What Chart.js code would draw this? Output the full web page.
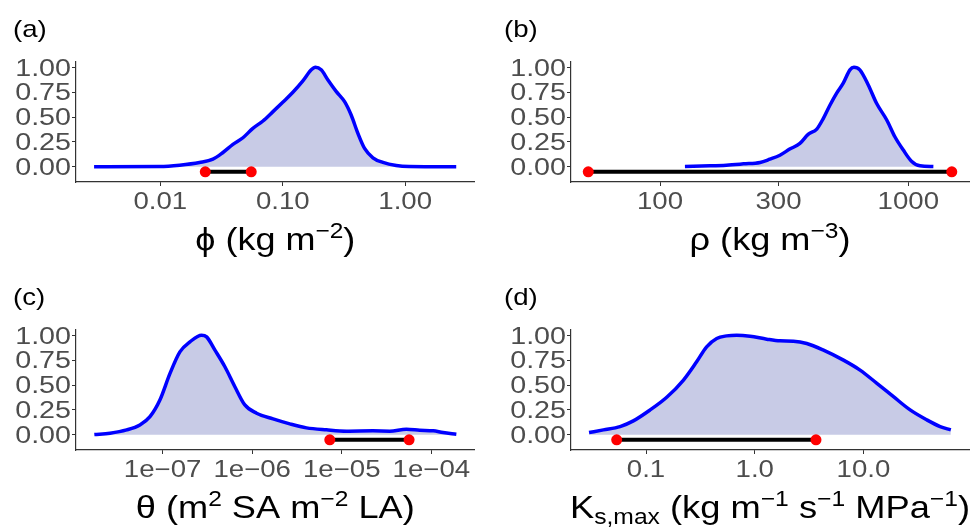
<!DOCTYPE html>
<html><head><meta charset="utf-8">
<script src="https://cdn.jsdelivr.net/npm/chart.js@4.4.1/dist/chart.umd.min.js"></script>
<style>
html,body{margin:0;padding:0;background:#fff;width:975px;height:532px;overflow:hidden}
canvas{position:absolute}
</style></head><body>
<canvas id="pa" width="480" height="266" style="left:0;top:0"></canvas>
<canvas id="pb" width="480" height="266" style="left:495px;top:0"></canvas>
<canvas id="pc" width="480" height="264" style="left:0;top:268px"></canvas>
<canvas id="pd" width="480" height="264" style="left:495px;top:268px"></canvas>
<script>
// ---- data ----
const phiX = [0.00288, 0.00989, 0.0144, 0.0209, 0.0269, 0.0325, 0.0392, 0.0473, 0.0570, 0.0689, 0.0832, 0.100, 0.121, 0.146, 0.171, 0.185, 0.206, 0.234, 0.274, 0.320, 0.362, 0.411, 0.466, 0.545, 0.658, 0.845, 1.08, 2.61];
const phiY = [0, 0.003, 0.017, 0.044, 0.077, 0.144, 0.225, 0.292, 0.386, 0.460, 0.554, 0.648, 0.748, 0.862, 0.973, 1.0, 0.973, 0.872, 0.755, 0.654, 0.520, 0.336, 0.185, 0.091, 0.044, 0.013, 0.003, 0];
const phiRange = [0.0233, 0.0553];

const rhoX = [126, 159, 185, 217, 253, 277, 304, 333, 366, 395, 428, 455, 484, 514, 547, 582, 604, 638, 690, 745, 819, 883, 955, 1030, 1114, 1262];
const rhoY = [0.003, 0.010, 0.017, 0.030, 0.044, 0.077, 0.117, 0.178, 0.235, 0.326, 0.379, 0.487, 0.621, 0.738, 0.839, 0.973, 1.0, 0.973, 0.822, 0.638, 0.470, 0.302, 0.168, 0.057, 0.010, 0.003];
const rhoRange = [51.4, 1497];

const thetaX = [1.73e-8, 2.59e-8, 3.97e-8, 5.58e-8, 7.23e-8, 9.33e-8, 1.21e-7, 1.56e-7, 2.02e-7, 2.72e-7, 3.10e-7, 3.84e-7, 4.96e-7, 6.41e-7, 8.28e-7, 1.12e-6, 1.71e-6, 2.63e-6, 4.04e-6, 6.75e-6, 1.13e-5, 2.23e-5, 3.43e-5, 5.26e-5, 7.41e-5, 1.05e-4, 1.35e-4, 1.90e-4];
const thetaY = [0.003, 0.017, 0.05, 0.1, 0.183, 0.35, 0.617, 0.833, 0.933, 1.0, 0.983, 0.85, 0.683, 0.483, 0.3, 0.217, 0.16, 0.11, 0.07, 0.05, 0.037, 0.04, 0.037, 0.057, 0.047, 0.04, 0.023, 0.007];
const thetaRange = [7.35e-6, 5.64e-5];

const ksX = [0.0299, 0.0405, 0.0577, 0.0764, 0.109, 0.155, 0.221, 0.292, 0.361, 0.447, 0.552, 0.682, 0.906, 1.29, 1.71, 2.27, 3.01, 4.29, 6.55, 9.31, 13.3, 18.9, 26.9, 38.3, 50.8, 63.7];
const ksY = [0.023, 0.05, 0.083, 0.14, 0.25, 0.377, 0.55, 0.733, 0.883, 0.967, 0.993, 1.0, 0.99, 0.96, 0.943, 0.94, 0.917, 0.85, 0.75, 0.65, 0.517, 0.383, 0.25, 0.15, 0.083, 0.05];
const ksRange = [0.0537, 3.66];

const rangeLevel = -0.05;

// ---- ticks ----
const yTicks = [0, 0.25, 0.5, 0.75, 1];
const yTickLabels = ['0.00', '0.25', '0.50', '0.75', '1.00'];
const phiTicks = [0.01, 0.1, 1];
const phiTickLabels = ['0.01', '0.10', '1.00'];
const rhoTicks = [100, 300, 1000];
const rhoTickLabels = ['100', '300', '1000'];
const thetaTicks = [1e-7, 1e-6, 1e-5, 1e-4];
const thetaTickLabels = ['1e\u221207', '1e\u221206', '1e\u221205', '1e\u221204'];
const ksTicks = [0.1, 1, 10];
const ksTickLabels = ['0.1', '1.0', '10.0'];

// ---- titles ----
const phiTitle = [['n', '\u03d5 (kg m'], ['sup', '\u22122'], ['n', ')']];
const rhoTitle = [['n', '\u03c1 (kg m'], ['sup', '\u22123'], ['n', ')']];
const thetaTitle = [['n', '\u03b8 (m'], ['sup', '2'], ['n', ' SA m'], ['sup', '\u22122'], ['n', ' LA)']];
const ksTitle = [['n', 'K'], ['sub', 's,max'], ['n', ' (kg m'], ['sup', '\u22121'], ['n', ' s'], ['sup', '\u22121'], ['n', ' MPa'], ['sup', '\u22121'], ['n', ')']];

const FONT = '"Liberation Sans", Arial, sans-serif';

function stretchText(ctx, text, x, y, align, sx) {
  ctx.save();
  ctx.translate(x, y);
  ctx.scale(sx, 1);
  ctx.textAlign = align;
  ctx.textBaseline = 'alphabetic';
  ctx.fillText(text, 0, 0);
  ctx.restore();
}

function drawRich(ctx, segs, cx, baseY, size, targetW) {
  const small = size * 0.68;
  let w = 0;
  const parts = segs.map(([k, t]) => {
    const fs = k === 'n' ? size : small;
    ctx.font = fs + 'px ' + FONT;
    const mw = ctx.measureText(t).width;
    w += mw;
    return {k, t, fs, mw};
  });
  const sx = targetW / w;
  ctx.save();
  ctx.translate(cx - targetW / 2, baseY);
  ctx.scale(sx, 1);
  ctx.textAlign = 'left';
  ctx.textBaseline = 'alphabetic';
  ctx.fillStyle = '#000';
  let x = 0;
  for (const p of parts) {
    ctx.font = p.fs + 'px ' + FONT;
    const dy = p.k === 'sup' ? -size * 0.36 : (p.k === 'sub' ? size * 0.2 : 0);
    ctx.fillText(p.t, x, dy);
    x += p.mw;
  }
  ctx.restore();
}

function makePanel(id, tag, xs, ys, range, xMin, xMax, xTicks, xLabels, title, titleW, areaRight) {
  const canvas = document.getElementById(id);
  const W = canvas.width, H = canvas.height;
  const area = {left: 76, right: areaRight, top: 62, bottom: 182};
  const textPlugin = {
    id: 'texts_' + id,
    afterDraw(chart) {
      const ctx = chart.ctx;
      const ca = chart.chartArea;
      const xs_ = chart.scales.x, ys_ = chart.scales.y;
      ctx.save();
      ctx.fillStyle = '#4d4d4d';
      ctx.font = '23px ' + FONT;
      xTicks.forEach((v, i) => {
        stretchText(ctx, xLabels[i], xs_.getPixelForValue(v), ca.bottom + 27, 'center', 1.2);
      });
      ctx.font = '23.5px ' + FONT;
      yTicks.forEach((v, i) => {
        stretchText(ctx, yTickLabels[i], ca.left - 5, ys_.getPixelForValue(v) + 8.4, 'right', 1.22);
      });
      ctx.fillStyle = '#000';
      ctx.font = '24px ' + FONT;
      stretchText(ctx, tag, id === 'pa' || id === 'pc' ? 13 : 9, 37, 'left', 1.15);
      drawRich(ctx, title, (ca.left + ca.right) / 2, ca.bottom + 68, 32, titleW);
      ctx.restore();
    }
  };
  return new Chart(canvas, {
    type: 'line',
    data: {
      datasets: [
        {
          data: xs.map((x, i) => ({x: x, y: ys[i]})),
          borderColor: '#0000ff', borderWidth: 3.5,
          backgroundColor: 'rgb(200,203,230)', fill: 'origin',
          pointRadius: 0, cubicInterpolationMode: 'monotone', order: 2
        },
        {
          data: range.map(x => ({x: x, y: rangeLevel})),
          borderColor: '#000000', borderWidth: 4, fill: false,
          pointRadius: 5.5, pointBackgroundColor: '#ff0000', pointBorderWidth: 0,
          order: 1, clip: 8
        }
      ]
    },
    options: {
      responsive: false, animation: false, devicePixelRatio: 1, events: [],
      layout: {padding: {left: area.left, right: W - area.right, top: area.top, bottom: H - area.bottom}},
      plugins: {legend: {display: false}, tooltip: {enabled: false}, title: {display: false}},
      scales: {
        x: {
          type: 'logarithmic', min: xMin, max: xMax, bounds: 'data',
          afterBuildTicks: s => { s.ticks = xTicks.map(v => ({value: v})); },
          afterFit: s => { s.height = 0; },
          ticks: {display: false},
          grid: {display: true, drawOnChartArea: false, drawTicks: true, tickLength: 4, color: '#333333', lineWidth: 1},
          border: {display: true, color: '#333333', width: 1.2}
        },
        y: {
          type: 'linear', min: -0.152, max: 1.052, bounds: 'data',
          afterBuildTicks: s => { s.ticks = yTicks.map(v => ({value: v})); },
          afterFit: s => { s.width = 0; },
          ticks: {display: false},
          grid: {display: true, drawOnChartArea: false, drawTicks: true, tickLength: 4, color: '#333333', lineWidth: 1},
          border: {display: true, color: '#333333', width: 1.2}
        }
      }
    },
    plugins: [textPlugin]
  });
}

makePanel('pa', '(a)', phiX, phiY, phiRange, 0.00205, 3.68, phiTicks, phiTickLabels, phiTitle, 160, 475);
makePanel('pb', '(b)', rhoX, rhoY, rhoRange, 43.8, 1756, rhoTicks, rhoTickLabels, rhoTitle, 161, 474);
makePanel('pc', '(c)', thetaX, thetaY, thetaRange, 1.08e-8, 3.03e-4, thetaTicks, thetaTickLabels, thetaTitle, 279, 475);
makePanel('pd', '(d)', ksX, ksY, ksRange, 0.0204, 93.6, ksTicks, ksTickLabels, ksTitle, 400, 474);
</script>
</body></html>
